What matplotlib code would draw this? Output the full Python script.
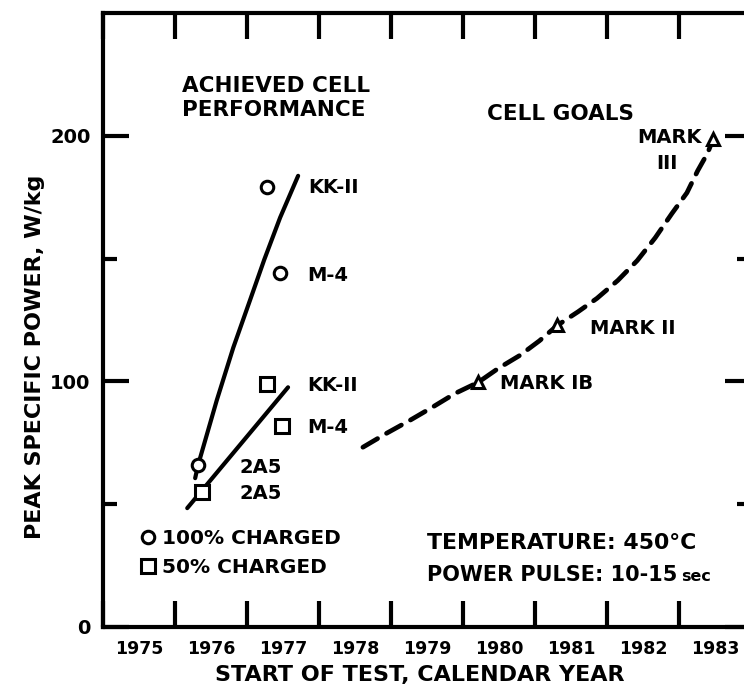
import numpy as np
import matplotlib
matplotlib.use("Agg")
import matplotlib.pyplot as plt
from matplotlib.ticker import FixedLocator

plt.rcParams["font.family"] = ["DejaVu Sans"]
plt.rcParams["font.weight"] = "bold"
plt.rcParams["axes.labelweight"] = "bold"

# achieved cells (100% charged = circles, 50% charged = squares)
cell_names = ["2A5", "KK-II", "M-4"]
year_full = [1976.32, 1977.28, 1977.46]
power_full = [66, 179, 144]
year_half = [1976.37, 1977.28, 1977.49]
power_half = [55, 99, 82]

# trend lines
trend_full_x = [1976.28, 1976.32, 1976.58, 1976.81, 1977.04, 1977.24, 1977.46, 1977.71]
trend_full_y = [60.6, 65.9, 92.3, 113.8, 132.9, 149.6, 166.7, 183.7]
trend_half_x = [1976.17, 1977.57]
trend_half_y = [48.4, 97.6]

# cell goals
goal_names = ["MARK IB", "MARK II", "MARK III"]
goal_year = [1980.21, 1981.31, 1983.47]
goal_power = [99.6, 122.8, 198.5]
goal_curve_x = [1978.61, 1978.94, 1979.26, 1979.57, 1979.89, 1980.21, 1980.49,
                1980.79, 1981.06, 1981.31, 1981.60, 1981.86, 1982.15, 1982.42,
                1982.67, 1982.90, 1983.11, 1983.26, 1983.40, 1983.47]
goal_curve_y = [73.2, 78.9, 84.1, 89.4, 95.1, 99.6, 105.3,
                110.6, 116.5, 122.8, 128.4, 133.8, 141.1, 149.2,
                158.5, 168.3, 176.8, 185.8, 193.1, 198.5]

years = ["1975", "1976", "1977", "1978", "1979", "1980", "1981", "1982", "1983"]

fig = plt.figure(figsize=(7.44, 6.94), dpi=100)
ax = fig.add_axes([103 / 744, 67 / 694, 648 / 744, 614 / 694])

lw = 3.0
ax.plot(trend_full_x, trend_full_y, color="black", lw=lw, solid_capstyle="round")
ax.plot(trend_half_x, trend_half_y, color="black", lw=lw, solid_capstyle="round")
ax.plot(goal_curve_x, goal_curve_y, color="black", lw=3.4,
        linestyle=(0, (3.6, 2.2)), dash_capstyle="round")

circ, = ax.plot(year_full, power_full, "o", ms=9, mfc="white", mec="black",
                mew=2.2, ls="none", label="100% CHARGED")
sq, = ax.plot(year_half, power_half, "s", ms=10.5, mfc="white", mec="black",
              mew=2.2, ls="none", label="50% CHARGED")
ax.plot(goal_year, goal_power, "^", ms=9, mfc="white", mec="black", mew=2.2, ls="none")

fs = 14
# labels next to the points
ax.text(1976.90, 65, cell_names[0], fontsize=fs, va="center", ha="left")
ax.text(1976.90, 54.5, cell_names[0], fontsize=fs, va="center", ha="left")
ax.text(1977.85, 179, cell_names[1], fontsize=fs, va="center", ha="left")
ax.text(1977.83, 98.4, cell_names[1], fontsize=fs, va="center", ha="left")
ax.text(1977.83, 143, cell_names[2], fontsize=fs, va="center", ha="left")
ax.text(1977.83, 81.3, cell_names[2], fontsize=fs, va="center", ha="left")

ax.text(1980.51, 99.2, goal_names[0], fontsize=fs, va="center", ha="left")
ax.text(1981.76, 121.5, goal_names[1], fontsize=fs, va="center", ha="left")
ax.text(1983.32, 199.5, "MARK", fontsize=fs, va="center", ha="right")
ax.text(1982.83, 188.6, "III", fontsize=fs, va="center", ha="center")

ax.text(1976.10, 224.4, "ACHIEVED CELL\nPERFORMANCE", fontsize=15.5,
        va="top", ha="left", linespacing=1.25)
ax.text(1980.33, 209, "CELL GOALS", fontsize=15.5, va="center", ha="left")

ax.text(1979.5, 34.1, "TEMPERATURE: 450°C", fontsize=15.8, va="center", ha="left")
pulse = ax.text(1979.5, 21.1, "POWER PULSE: 10-15", fontsize=15, va="center", ha="left")
ax.annotate("sec", xy=(1, 0.45), xycoords=pulse, xytext=(3, 0),
            textcoords="offset points", fontsize=11.5, va="center", ha="left")

ax.legend(handles=[circ, sq], loc="upper left", bbox_to_anchor=(0.06, 0.16),
          frameon=False, fontsize=14.5, handlelength=0.6, handletextpad=0.4,
          labelspacing=0.52, borderpad=0, borderaxespad=0)

ax.set_xlim(1975, 1984)
ax.set_ylim(0, 250)

# year boundaries carry the ticks, labels sit between them
ax.xaxis.set_major_locator(FixedLocator(np.arange(1975, 1985)))
ax.xaxis.set_minor_locator(FixedLocator(np.arange(1975, 1984) + 0.5))
ax.set_xticklabels([], minor=False)
ax.set_xticklabels(years, minor=True)
ax.tick_params(axis="x", which="major", direction="in", length=19, width=3,
               top=True, bottom=True)
ax.tick_params(axis="x", which="minor", length=0, pad=9, labelsize=12.5)

ax.set_yticks([0, 100, 200])
ax.set_yticks([50, 150], minor=True)
ax.tick_params(axis="y", which="major", direction="in", length=19, width=3,
               left=True, right=True, pad=9, labelsize=14)
ax.tick_params(axis="y", which="minor", direction="in", length=10, width=3,
               left=True, right=True)

for s in ax.spines.values():
    s.set_linewidth(3)

ax.set_ylabel("PEAK SPECIFIC POWER, W/kg", fontsize=16)
ax.yaxis.set_label_coords(-0.0895, 0.44)
ax.set_xlabel("START OF TEST, CALENDAR YEAR", fontsize=16)
ax.xaxis.set_label_coords(0.489, -0.062)

fig.savefig("out.png", dpi=100)
